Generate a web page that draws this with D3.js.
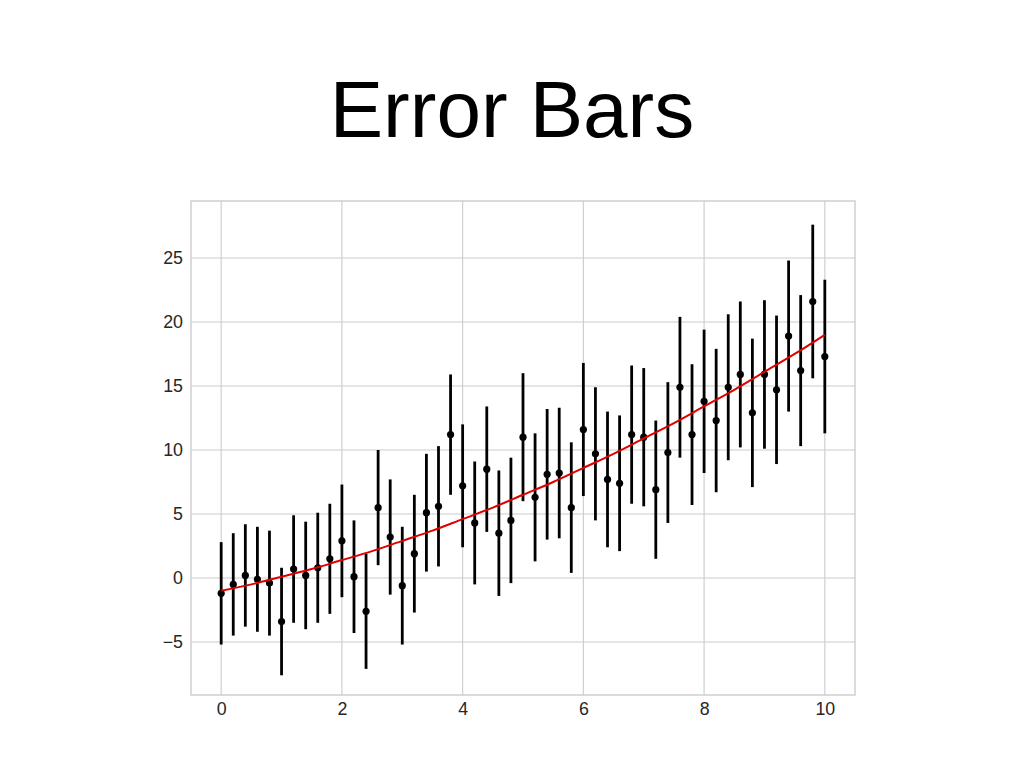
<!DOCTYPE html>
<html>
<head>
<meta charset="utf-8">
<script src="https://cdnjs.cloudflare.com/ajax/libs/d3/7.8.5/d3.min.js"></script>
<style>
  body { margin: 0; background: #ffffff; }
  svg { display: block; font-family: "Liberation Sans", Arial, sans-serif; }
</style>
</head>
<body>
<svg width="1024" height="768"></svg>
<script>
// meetpunten (x, y) met fout dy
var xs = [0, 0.2, 0.4, 0.6, 0.8, 1.0, 1.2, 1.4, 1.6, 1.8,
          2.0, 2.2, 2.4, 2.6, 2.8, 3.0, 3.2, 3.4, 3.6, 3.8,
          4.0, 4.2, 4.4, 4.6, 4.8, 5.0, 5.2, 5.4, 5.6, 5.8,
          6.0, 6.2, 6.4, 6.6, 6.8, 7.0, 7.2, 7.4, 7.6, 7.8,
          8.0, 8.2, 8.4, 8.6, 8.8, 9.0, 9.2, 9.4, 9.6, 9.8, 10.0];
var ys = [-1.2, -0.5, 0.2, -0.1, -0.4, -3.4, 0.7, 0.2, 0.8, 1.5,
          2.9, 0.1, -2.6, 5.5, 3.2, -0.6, 1.9, 5.1, 5.6, 11.2,
          7.2, 4.3, 8.5, 3.5, 4.5, 11.0, 6.3, 8.1, 8.2, 5.5,
          11.6, 9.7, 7.7, 7.4, 11.2, 11.0, 6.9, 9.8, 14.9, 11.2,
          13.8, 12.3, 14.9, 15.9, 12.9, 15.9, 14.7, 18.9, 16.2, 21.6, 17.3];
var dys = [4.0, 4.0, 4.0, 4.1, 4.1, 4.2, 4.2, 4.2, 4.3, 4.3,
           4.4, 4.4, 4.5, 4.5, 4.5, 4.6, 4.6, 4.6, 4.7, 4.7,
           4.8, 4.8, 4.9, 4.9, 4.9, 5.0, 5.0, 5.1, 5.1, 5.1,
           5.2, 5.2, 5.3, 5.3, 5.4, 5.4, 5.4, 5.5, 5.5, 5.5,
           5.6, 5.6, 5.7, 5.7, 5.8, 5.8, 5.8, 5.9, 5.9, 6.0, 6.0];

// rode fitlijn
var fitX = [0, 0.5, 1, 1.5, 2, 2.5, 3, 3.5, 4, 4.5, 5, 5.5, 6, 6.5, 7, 7.5, 8, 8.5, 9, 9.5, 10];
var fitY = [-1.0, -0.5, 0.1, 0.7, 1.4, 2.1, 2.9, 3.7, 4.6, 5.5, 6.5, 7.5, 8.6, 9.7, 10.9, 12.1, 13.4, 14.7, 16.1, 17.5, 19.0];

var xTicks = [0, 2, 4, 6, 8, 10];
var yTicks = [-5, 0, 5, 10, 15, 20, 25];

var svg = d3.select("svg");
var pLeft = 191, pRight = 855, pTop = 201, pBottom = 695;

var x = d3.scaleLinear().domain([-0.5, 10.5]).range([pLeft, pRight]);
var y = d3.scaleLinear().domain([-9.14, 29.45]).range([pBottom, pTop]);

svg.append("text")
    .attr("x", 512)
    .attr("y", 137)
    .attr("text-anchor", "middle")
    .attr("font-size", 80)
    .attr("fill", "#000")
    .text("Error Bars");

// grid
var grid = svg.append("g").attr("class", "grid");
grid.selectAll("line.gx")
    .data(xTicks)
    .enter().append("line")
    .attr("class", "gx")
    .attr("x1", function(d) { return x(d); })
    .attr("x2", function(d) { return x(d); })
    .attr("y1", pTop)
    .attr("y2", pBottom)
    .attr("stroke", "#cccccc")
    .attr("stroke-width", 1.1);
grid.selectAll("line.gy")
    .data(yTicks)
    .enter().append("line")
    .attr("class", "gy")
    .attr("x1", pLeft)
    .attr("x2", pRight)
    .attr("y1", function(d) { return y(d); })
    .attr("y2", function(d) { return y(d); })
    .attr("stroke", "#cccccc")
    .attr("stroke-width", 1.1);

svg.append("rect")
    .attr("x", pLeft)
    .attr("y", pTop)
    .attr("width", pRight - pLeft)
    .attr("height", pBottom - pTop)
    .attr("fill", "none")
    .attr("stroke", "#cccccc")
    .attr("stroke-width", 1.4);

// assen via d3.axis, zonder tick lijntjes
var xAxis = svg.append("g")
    .attr("transform", "translate(0," + pBottom + ")")
    .call(d3.axisBottom(x).tickValues(xTicks).tickSize(0).tickPadding(7).tickFormat(d3.format("d")));
var yAxis = svg.append("g")
    .attr("transform", "translate(" + pLeft + ",0)")
    .call(d3.axisLeft(y).tickValues(yTicks).tickSize(0).tickPadding(8).tickFormat(d3.format("d")));

[xAxis, yAxis].forEach(function(a) {
  a.select(".domain").remove();
  a.selectAll("text")
      .attr("fill", "#262626")
      .attr("font-size", 17.8)
      .attr("font-family", "Liberation Sans, Arial, sans-serif");
});

var pts = xs.map(function(d, i) { return {x: d, y: ys[i], dy: dys[i]}; });

// foutbalken
svg.append("g")
    .selectAll("line")
    .data(pts)
    .enter().append("line")
    .attr("x1", function(d) { return x(d.x); })
    .attr("x2", function(d) { return x(d.x); })
    .attr("y1", function(d) { return y(d.y + d.dy); })
    .attr("y2", function(d) { return y(d.y - d.dy); })
    .attr("stroke", "#000")
    .attr("stroke-width", 2.8);

svg.append("g")
    .selectAll("circle")
    .data(pts)
    .enter().append("circle")
    .attr("cx", function(d) { return x(d.x); })
    .attr("cy", function(d) { return y(d.y); })
    .attr("r", 3.6)
    .attr("fill", "#000");

var line = d3.line()
    .x(function(d, i) { return x(fitX[i]); })
    .y(function(d) { return y(d); })
    .curve(d3.curveMonotoneX);

svg.append("path")
    .datum(fitY)
    .attr("d", line)
    .attr("fill", "none")
    .attr("stroke", "#e00000")
    .attr("stroke-width", 2);
</script>
</body>
</html>
